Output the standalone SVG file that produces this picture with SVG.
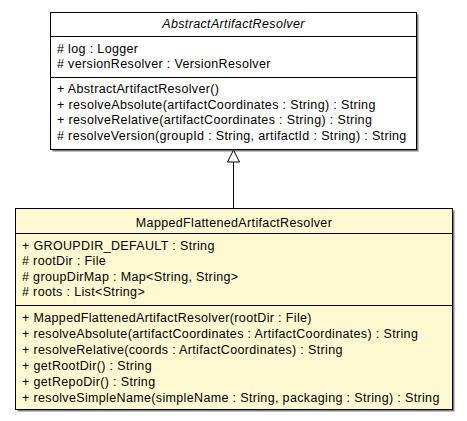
<svg xmlns="http://www.w3.org/2000/svg" width="467" height="421" viewBox="0 0 467 421">
<style>
text{font-family:"Liberation Sans",Arial,sans-serif;font-size:12.5px;letter-spacing:0.35px;fill:#000}
.box{stroke:#000;stroke-width:1}
.shadow{fill:#808080}
.t{text-anchor:middle}
.i{font-style:italic}
.line{stroke:#000;stroke-width:1;fill:none}
</style>
<rect width="467" height="421" fill="#fff"/>
<g id="AbstractArtifactResolver">
<rect class="shadow" x="52.5" y="14.5" width="366" height="137"/>
<rect class="box" x="50.5" y="12.5" width="366" height="137" fill="#fff"/>
<line class="line" x1="50.5" y1="36.5" x2="416.5" y2="36.5"/>
<line class="line" x1="50.5" y1="77.5" x2="416.5" y2="77.5"/>
<text class="t i" x="233.5" y="28">AbstractArtifactResolver</text>
<text x="57" y="52.5"># log : Logger</text>
<text x="57" y="68"># versionResolver : VersionResolver</text>
<text x="57" y="92.5">+ AbstractArtifactResolver()</text>
<text x="57" y="108.5">+ resolveAbsolute(artifactCoordinates : String) : String</text>
<text x="57" y="124">+ resolveRelative(artifactCoordinates : String) : String</text>
<text x="57" y="139.5"># resolveVersion(groupId : String, artifactId : String) : String</text>
</g>
<g id="MappedFlattenedArtifactResolver">
<rect class="shadow" x="17.5" y="210.5" width="437" height="201"/>
<rect class="box" x="15.5" y="208.5" width="437" height="201" fill="#FFF9D2"/>
<line class="line" x1="15.5" y1="233.5" x2="452.5" y2="233.5"/>
<line class="line" x1="15.5" y1="305.5" x2="452.5" y2="305.5"/>
<text class="t" x="234" y="226.5">MappedFlattenedArtifactResolver</text>
<text x="22" y="249.5">+ GROUPDIR_DEFAULT : String</text>
<text x="22" y="265"># rootDir : File</text>
<text x="22" y="280.5"># groupDirMap : Map&lt;String, String&gt;</text>
<text x="22" y="296"># roots : List&lt;String&gt;</text>
<text x="22" y="321.5">+ MappedFlattenedArtifactResolver(rootDir : File)</text>
<text x="22" y="337.5">+ resolveAbsolute(artifactCoordinates : ArtifactCoordinates) : String</text>
<text x="22" y="353.5">+ resolveRelative(coords : ArtifactCoordinates) : String</text>
<text x="22" y="369.5">+ getRootDir() : String</text>
<text x="22" y="385.5">+ getRepoDir() : String</text>
<text x="22" y="401.5">+ resolveSimpleName(simpleName : String, packaging : String) : String</text>
</g>
<g id="connectors">
<line class="line" x1="233.5" y1="162" x2="233.5" y2="208"/>
<polygon points="233.5,150 227.5,162 239.5,162" fill="#fff" stroke="#000" stroke-width="1"/>
</g>
</svg>
